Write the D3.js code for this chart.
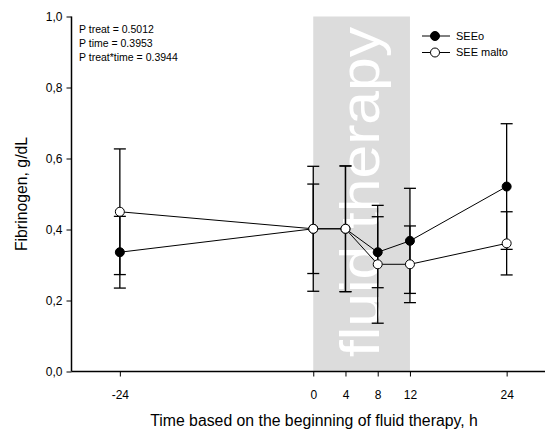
<!DOCTYPE html>
<html>
<head>
<meta charset="utf-8">
<script src="https://cdn.jsdelivr.net/npm/d3@7"></script>
<style>
  body { margin: 0; background: #fff; }
  text { font-family: "Liberation Sans", Arial, sans-serif; }
</style>
</head>
<body>
<div id="chart"></div>
<script>
// data
var times = [-24, 0, 4, 8, 12, 24];
var seeoMean = [0.336, 0.402, 0.402, 0.336, 0.368, 0.521];
var seeoErr = [0.101, 0.126, 0.177, 0.100, 0.148, 0.177];
var maltoMean = [0.450, 0.402, 0.402, 0.302, 0.302, 0.361];
var maltoErr = [0.177, 0.176, 0.177, 0.166, 0.108, 0.089];
var xTicks = [-24, 0, 4, 8, 12, 24];
var yTicks = [0, 0.2, 0.4, 0.6, 0.8, 1.0];
var therapyWindow = [0, 12];
var pLines = ["P treat = 0.5012", "P time = 0.3953", "P treat*time = 0.3944"];

var width = 545, height = 432;

var x = d3.scaleLinear().domain([-30, 30]).range([71.5, 555]);
var y = d3.scaleLinear().domain([0, 1]).range([371.5, 16.5]);

var svg = d3.select('#chart').append('svg')
  .attr('width', width)
  .attr('height', height);

// grey band for fluid therapy period
svg.append('rect')
  .attr('x', x(therapyWindow[0]))
  .attr('y', y(1))
  .attr('width', x(therapyWindow[1]) - x(therapyWindow[0]))
  .attr('height', y(0) - y(1))
  .attr('fill', '#dcdcdc');

svg.append('text')
  .attr('transform', 'translate(' + (x(6) + 17) + ',357) rotate(-90)')
  .attr('fill', '#fff')
  .attr('font-size', 56)
  .attr('textLength', 330)
  .attr('lengthAdjust', 'spacingAndGlyphs')
  .text('fluid therapy');

// axes
var yAxis = d3.axisLeft(y).tickValues(yTicks).tickSize(5).tickPadding(4)
  .tickFormat(function(d){ return d3.format('.1f')(d).replace('.', ','); });
var yG = svg.append('g').attr('transform', 'translate(' + x(-30) + ',0)').call(yAxis);

var xAxis = d3.axisBottom(x).tickValues(xTicks).tickSize(5).tickPadding(14)
  .tickFormat(function(d){ return String(d); });
var xG = svg.append('g').attr('transform', 'translate(0,' + y(0) + ')').call(xAxis);

[yG, xG].forEach(function(g){
  g.select('.domain').attr('stroke', '#000').attr('stroke-width', 1.5);
  g.selectAll('.tick line').attr('stroke', '#000').attr('stroke-width', 1);
  g.selectAll('.tick text').attr('font-size', 12).attr('fill', '#000')
    .style('font-family', '"Liberation Sans", Arial, sans-serif');
});
// y domain without the end ticks
yG.select('.domain').attr('d', 'M0,' + y(1) + 'V' + y(0));
xG.select('.domain').attr('d', 'M' + x(-30) + ',0H555');

svg.append('text')
  .attr('transform', 'translate(27,' + y(0.5) + ') rotate(-90)')
  .attr('text-anchor', 'middle')
  .attr('font-size', 15.8)
  .text('Fibrinogen, g/dL');

svg.append('text')
  .attr('x', 314)
  .attr('y', 426)
  .attr('text-anchor', 'middle')
  .attr('font-size', 15.8)
  .text('Time based on the beginning of fluid therapy, h');

// series
var series = [
  { name: 'SEEo', mean: seeoMean, err: seeoErr, fill: '#000' },
  { name: 'SEE malto', mean: maltoMean, err: maltoErr, fill: '#fff' }
];

series.forEach(function(s){
  var pts = times.map(function(t, i){ return { t: t, m: s.mean[i], e: s.err[i] }; });
  var g = svg.append('g');
  var bars = g.selectAll('.eb').data(pts).enter().append('g');
  bars.append('line')
    .attr('x1', function(d){ return x(d.t); }).attr('x2', function(d){ return x(d.t); })
    .attr('y1', function(d){ return y(d.m - d.e); }).attr('y2', function(d){ return y(d.m + d.e); })
    .attr('stroke', '#000').attr('stroke-width', 1.3);
  [-1, 1].forEach(function(sgn){
    bars.append('line')
      .attr('x1', function(d){ return x(d.t) - 6; }).attr('x2', function(d){ return x(d.t) + 6; })
      .attr('y1', function(d){ return y(d.m + sgn * d.e); }).attr('y2', function(d){ return y(d.m + sgn * d.e); })
      .attr('stroke', '#000').attr('stroke-width', 1.3);
  });
  s.pts = pts;
});

series.forEach(function(s){
  svg.append('path')
    .datum(s.pts)
    .attr('fill', 'none').attr('stroke', '#000').attr('stroke-width', 1)
    .attr('d', d3.line().x(function(d){ return x(d.t); }).y(function(d){ return y(d.m); }));
});

series.forEach(function(s){
  svg.selectAll(null).data(s.pts).enter().append('circle')
    .attr('cx', function(d){ return x(d.t); })
    .attr('cy', function(d){ return y(d.m); })
    .attr('r', 4.5)
    .attr('fill', s.fill).attr('stroke', '#000').attr('stroke-width', 1);
});

// p values
svg.selectAll('.pval').data(pLines).enter().append('text')
  .attr('x', 79)
  .attr('y', function(d, i){ return 33 + i * 14; })
  .attr('font-size', 10.5)
  .text(function(d){ return d; });

// legend
var leg = svg.append('g').selectAll('g').data(series).enter().append('g')
  .attr('transform', function(d, i){ return 'translate(422,' + (36 + i * 16.5) + ')'; });
leg.append('line').attr('x1', 0).attr('x2', 28).attr('stroke', '#000').attr('stroke-width', 1);
leg.append('circle').attr('cx', 13).attr('r', 4.5)
  .attr('fill', function(d){ return d.fill; }).attr('stroke', '#000');
leg.append('text').attr('x', 34).attr('dy', '0.35em').attr('font-size', 11)
  .text(function(d){ return d.name; });
</script>
</body>
</html>
